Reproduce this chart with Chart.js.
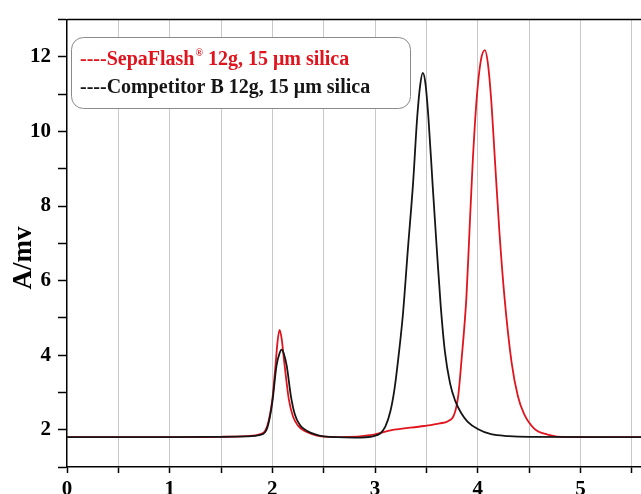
<!DOCTYPE html>
<html>
<head>
<meta charset="utf-8">
<script src="https://cdn.jsdelivr.net/npm/chart.js@4/dist/chart.umd.min.js"></script>
<style>
  html, body { margin: 0; padding: 0; background: #fff; }
  #wrap { width: 641px; height: 494px; position: relative; }
</style>
</head>
<body>
<div id="wrap"><canvas id="grafico"></canvas></div>
<script>
const TEMPO_SEPA = [0, 1.0, 1.5, 1.75, 1.88, 1.95, 2.0, 2.03, 2.05, 2.07, 2.09, 2.12, 2.16, 2.20, 2.25, 2.31, 2.38, 2.46, 2.67, 2.99, 3.15, 3.48, 3.63, 3.71, 3.77, 3.81, 3.84, 3.89, 3.92, 3.95, 3.99, 4.03, 4.07, 4.10, 4.13, 4.17, 4.21, 4.26, 4.33, 4.39, 4.45, 4.55, 4.68, 4.87, 5.0, 5.6];
const SINAL_SEPA = [1.80, 1.80, 1.81, 1.83, 1.88, 2.10, 2.82, 3.71, 4.35, 4.68, 4.45, 3.71, 2.82, 2.36, 2.11, 1.97, 1.89, 1.83, 1.80, 1.87, 1.98, 2.10, 2.17, 2.23, 2.40, 2.91, 3.80, 5.57, 7.35, 9.12, 10.89, 11.90, 12.18, 11.80, 10.89, 9.12, 7.35, 5.57, 3.80, 2.91, 2.43, 2.03, 1.87, 1.80, 1.80, 1.80];

const TEMPO_COMP = [0, 1.0, 1.5, 1.75, 1.88, 1.95, 2.0, 2.04, 2.07, 2.09, 2.11, 2.14, 2.18, 2.22, 2.27, 2.33, 2.41, 2.5, 2.8, 2.99, 3.05, 3.10, 3.15, 3.19, 3.23, 3.27, 3.32, 3.37, 3.41, 3.44, 3.465, 3.49, 3.52, 3.56, 3.60, 3.64, 3.68, 3.73, 3.78, 3.84, 3.90, 4.0, 4.13, 4.3, 4.5, 5.6];
const SINAL_COMP = [1.80, 1.80, 1.81, 1.82, 1.86, 2.05, 2.75, 3.71, 4.05, 4.15, 4.05, 3.71, 2.91, 2.40, 2.12, 1.98, 1.88, 1.82, 1.79, 1.83, 1.90, 2.08, 2.50, 3.10, 4.00, 5.05, 6.85, 8.60, 10.36, 11.25, 11.57, 11.30, 10.36, 8.60, 6.90, 5.30, 4.10, 3.25, 2.78, 2.44, 2.22, 2.02, 1.88, 1.83, 1.81, 1.80];

const ROTULOS = ["----SepaFlash", "\u00AE", " 12g, 15 \u03BCm silica", "----Competitor B 12g, 15 \u03BCm silica"];
const TICKS_Y = [1, 2, 3, 4, 5, 6, 7, 8, 9, 10, 11, 12, 13];
const TITULO_Y = "A/mv";

const VERMELHO = "#e0141d";
const PRETO = "#151515";
const FONTE = "'Liberation Serif', 'Times New Roman', serif";

function pontos(xs, ys) {
  return xs.map((x, i) => ({ x: x, y: ys[i] }));
}

// Moldura superior, legenda e título do eixo Y
const extras = {
  id: "extras",
  afterDraw(chart) {
    const ctx = chart.ctx;
    const area = chart.chartArea;
    ctx.save();

    ctx.strokeStyle = "#000";
    ctx.lineWidth = 1.5;
    ctx.beginPath();
    ctx.moveTo(area.left, area.top);
    ctx.lineTo(area.right, area.top);
    ctx.stroke();

    // caixa da legenda
    ctx.fillStyle = "#fff";
    ctx.strokeStyle = "#8a8a8a";
    ctx.lineWidth = 1;
    ctx.beginPath();
    ctx.roundRect(71.5, 37.5, 339, 71, 12);
    ctx.fill();
    ctx.stroke();

    ctx.font = "bold 20px " + FONTE;
    ctx.textBaseline = "alphabetic";
    ctx.textAlign = "left";
    ctx.fillStyle = VERMELHO;
    let x = 80;
    ctx.fillText(ROTULOS[0], x, 65);
    x += ctx.measureText(ROTULOS[0]).width + 1;
    ctx.font = "bold 10px " + FONTE;
    ctx.fillText(ROTULOS[1], x, 56);
    x += ctx.measureText(ROTULOS[1]).width;
    ctx.font = "bold 20px " + FONTE;
    ctx.fillText(ROTULOS[2], x, 65);

    ctx.fillStyle = PRETO;
    ctx.fillText(ROTULOS[3], 80, 93);

    // título do eixo Y
    ctx.translate(24, 258);
    ctx.rotate(-Math.PI / 2);
    ctx.textAlign = "center";
    ctx.textBaseline = "middle";
    ctx.fillStyle = "#000";
    ctx.font = "bold 27px " + FONTE;
    ctx.fillText(TITULO_Y, 0, 0);

    ctx.restore();
  },
};

new Chart(document.getElementById("grafico"), {
  type: "line",
  data: {
    datasets: [
      {
        label: "Competitor B 12g, 15 \u03BCm silica",
        data: pontos(TEMPO_COMP, SINAL_COMP),
        borderColor: PRETO,
        borderWidth: 1.8,
        pointRadius: 0,
        cubicInterpolationMode: "monotone",
        fill: false,
      },
      {
        label: "SepaFlash\u00AE 12g, 15 \u03BCm silica",
        data: pontos(TEMPO_SEPA, SINAL_SEPA),
        borderColor: VERMELHO,
        borderWidth: 1.8,
        pointRadius: 0,
        cubicInterpolationMode: "monotone",
        fill: false,
      },
    ],
  },
  options: {
    responsive: true,
    maintainAspectRatio: false,
    animation: false,
    layout: { padding: { top: 17, right: 0, left: 0, bottom: 0 } },
    plugins: {
      legend: { display: false },
      tooltip: { enabled: false },
    },
    scales: {
      x: {
        type: "linear",
        min: 0,
        max: 5.59,
        afterFit: (s) => { s.height = 27; },
        border: { color: "#000", width: 1.5 },
        grid: {
          color: (c) => (c.tick && c.tick.value === 0 ? "rgba(0,0,0,0)" : "#c9c9c9"),
          lineWidth: 1,
          tickColor: "#000",
          tickLength: 6,
          tickWidth: 1.5,
        },
        ticks: {
          stepSize: 0.5,
          includeBounds: false,
          autoSkip: false,
          maxRotation: 0,
          padding: 4,
          color: "#000",
          font: { family: FONTE, size: 21, weight: "bold" },
          callback: (v) => (Number.isInteger(v) ? String(v) : ""),
        },
      },
      y: {
        min: 1,
        max: 13,
        afterFit: (s) => { s.width = 67; },
        afterBuildTicks: (s) => { s.ticks = TICKS_Y.map((v) => ({ value: v })); },
        border: { color: "#000", width: 1.5 },
        grid: {
          drawOnChartArea: false,
          tickColor: "#000",
          tickLength: 9,
          tickWidth: 1.5,
        },
        ticks: {
          padding: 7,
          color: "#000",
          font: { family: FONTE, size: 21, weight: "bold" },
          callback: (v) => (v % 2 === 0 ? String(v) : ""),
        },
      },
    },
  },
  plugins: [extras],
});
</script>
</body>
</html>
